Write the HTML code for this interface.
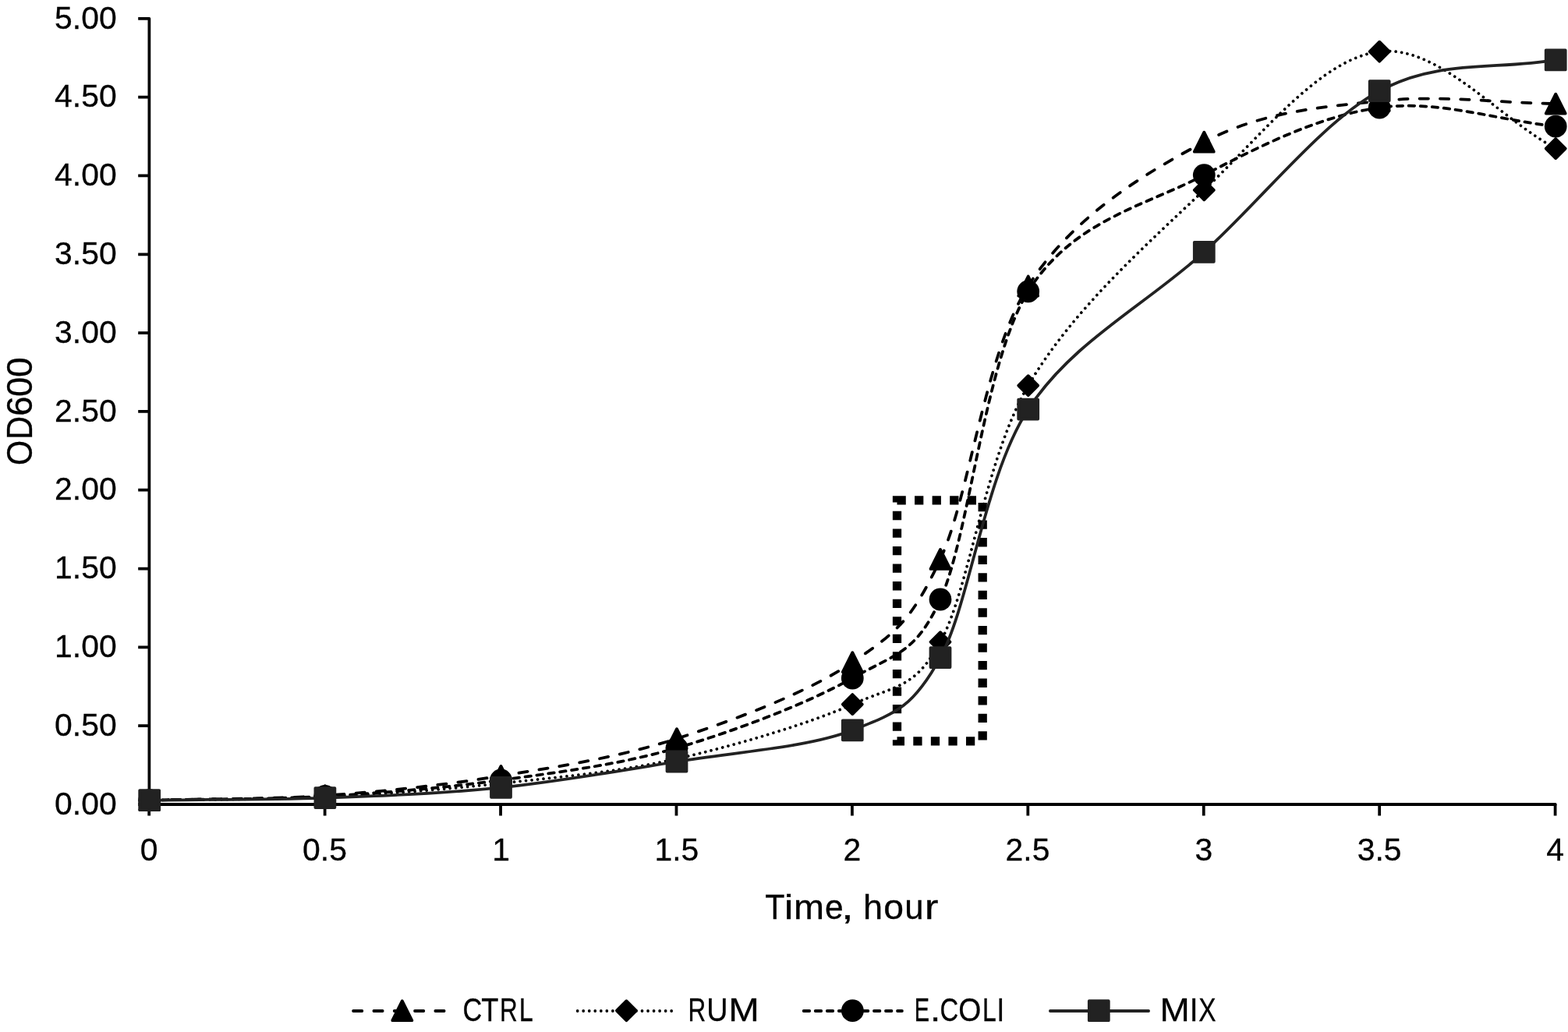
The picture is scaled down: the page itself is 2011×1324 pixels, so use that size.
<!DOCTYPE html>
<html lang="en"><head><meta charset="utf-8"><title>Growth curves</title>
<style>html,body{margin:0;padding:0;background:#fff}body{width:2011px;height:1324px;overflow:hidden}svg{display:block}text{font-family:"Liberation Sans",sans-serif;fill:#000}</style></head><body>
<svg width="2011" height="1324" viewBox="0 0 2011 1324">
<rect width="2011" height="1324" fill="#fff"/>
<g id="axes"><path d="M191.40 23.80 V1032.00 H1994.80" fill="none" stroke="#000" stroke-width="3.76" stroke-linejoin="round" stroke-linecap="round"/><path d="M177.20 1032.00 H191.40M177.20 931.18 H191.40M177.20 830.36 H191.40M177.20 729.54 H191.40M177.20 628.72 H191.40M177.20 527.90 H191.40M177.20 427.08 H191.40M177.20 326.26 H191.40M177.20 225.44 H191.40M177.20 124.62 H191.40M177.20 23.80 H191.40M191.20 1032.00 V1046.60M416.63 1032.00 V1046.60M642.05 1032.00 V1046.60M867.48 1032.00 V1046.60M1092.90 1032.00 V1046.60M1318.33 1032.00 V1046.60M1543.75 1032.00 V1046.60M1769.18 1032.00 V1046.60M1994.60 1032.00 V1046.60" fill="none" stroke="#000" stroke-width="3.76"/></g>
<rect id="highlight" x="1150.5" y="641.9" width="109.7" height="309.0" fill="none" stroke="#000" stroke-width="11.28" stroke-dasharray="11.28 11.28"/>
<g id="s-ctrl"><path d="M191.70 1026.60 C266.77 1024.60 341.77 1025.80 416.90 1020.60 C492.03 1015.40 567.32 1007.57 642.50 995.40 C717.68 983.23 792.87 971.88 868.00 947.60 C943.13 923.32 1036.97 888.07 1093.30 849.70 C1149.63 811.33 1169.23 796.14 1206.00 717.40 C1243.57 636.95 1262.32 456.20 1318.70 367.00 C1375.08 277.80 1469.22 221.77 1544.30 182.20 C1619.38 142.63 1694.05 137.78 1769.20 129.60 C1844.35 121.42 1919.87 131.93 1995.20 133.10" fill="none" stroke="#000" stroke-width="3.76" stroke-linecap="round" stroke-linejoin="round" stroke-dasharray="11.28 15.04" stroke-dashoffset="-1.88"/><polygon points="191.70,1014.10 204.20,1039.10 179.20,1039.10" fill="#000" stroke="#000" stroke-width="3.76" stroke-linejoin="round"/><polygon points="416.90,1008.10 429.40,1033.10 404.40,1033.10" fill="#000" stroke="#000" stroke-width="3.76" stroke-linejoin="round"/><polygon points="642.50,982.90 655.00,1007.90 630.00,1007.90" fill="#000" stroke="#000" stroke-width="3.76" stroke-linejoin="round"/><polygon points="868.00,935.10 880.50,960.10 855.50,960.10" fill="#000" stroke="#000" stroke-width="3.76" stroke-linejoin="round"/><polygon points="1093.30,837.20 1105.80,862.20 1080.80,862.20" fill="#000" stroke="#000" stroke-width="3.76" stroke-linejoin="round"/><polygon points="1206.00,704.90 1218.50,729.90 1193.50,729.90" fill="#000" stroke="#000" stroke-width="3.76" stroke-linejoin="round"/><polygon points="1318.70,354.50 1331.20,379.50 1306.20,379.50" fill="#000" stroke="#000" stroke-width="3.76" stroke-linejoin="round"/><polygon points="1544.30,169.70 1556.80,194.70 1531.80,194.70" fill="#000" stroke="#000" stroke-width="3.76" stroke-linejoin="round"/><polygon points="1769.20,117.10 1781.70,142.10 1756.70,142.10" fill="#000" stroke="#000" stroke-width="3.76" stroke-linejoin="round"/><polygon points="1995.20,120.60 2007.70,145.60 1982.70,145.60" fill="#000" stroke="#000" stroke-width="3.76" stroke-linejoin="round"/></g>
<g id="s-rum"><path d="M191.70 1026.60 C266.77 1025.23 341.77 1026.10 416.90 1022.50 C492.03 1018.90 567.32 1013.17 642.50 1005.00 C717.68 996.83 792.87 990.40 868.00 973.50 C943.13 956.60 1036.97 928.57 1093.30 903.60 C1149.63 878.63 1172.65 884.19 1206.00 823.70 C1243.57 755.55 1262.32 591.35 1318.70 494.70 C1375.08 398.05 1469.22 315.22 1544.30 243.80 C1619.38 172.38 1694.05 75.07 1769.20 66.20 C1844.35 57.33 1919.87 149.13 1995.20 190.60" fill="none" stroke="#000" stroke-width="3.76" stroke-linecap="round" stroke-linejoin="round" stroke-dasharray="0.01 7.52" stroke-dashoffset="-1.88"/><polygon points="191.70,1014.10 204.20,1026.60 191.70,1039.10 179.20,1026.60" fill="#000" stroke="#000" stroke-width="3.76" stroke-linejoin="round"/><polygon points="416.90,1010.00 429.40,1022.50 416.90,1035.00 404.40,1022.50" fill="#000" stroke="#000" stroke-width="3.76" stroke-linejoin="round"/><polygon points="642.50,992.50 655.00,1005.00 642.50,1017.50 630.00,1005.00" fill="#000" stroke="#000" stroke-width="3.76" stroke-linejoin="round"/><polygon points="868.00,961.00 880.50,973.50 868.00,986.00 855.50,973.50" fill="#000" stroke="#000" stroke-width="3.76" stroke-linejoin="round"/><polygon points="1093.30,891.10 1105.80,903.60 1093.30,916.10 1080.80,903.60" fill="#000" stroke="#000" stroke-width="3.76" stroke-linejoin="round"/><polygon points="1206.00,811.20 1218.50,823.70 1206.00,836.20 1193.50,823.70" fill="#000" stroke="#000" stroke-width="3.76" stroke-linejoin="round"/><polygon points="1318.70,482.20 1331.20,494.70 1318.70,507.20 1306.20,494.70" fill="#000" stroke="#000" stroke-width="3.76" stroke-linejoin="round"/><polygon points="1544.30,231.30 1556.80,243.80 1544.30,256.30 1531.80,243.80" fill="#000" stroke="#000" stroke-width="3.76" stroke-linejoin="round"/><polygon points="1769.20,53.70 1781.70,66.20 1769.20,78.70 1756.70,66.20" fill="#000" stroke="#000" stroke-width="3.76" stroke-linejoin="round"/><polygon points="1995.20,178.10 2007.70,190.60 1995.20,203.10 1982.70,190.60" fill="#000" stroke="#000" stroke-width="3.76" stroke-linejoin="round"/></g>
<g id="s-ecoli"><path d="M191.70 1026.60 C266.77 1024.90 341.77 1025.80 416.90 1021.50 C492.03 1017.20 567.32 1011.12 642.50 1000.80 C717.68 990.48 792.87 981.40 868.00 959.60 C943.13 937.80 1036.97 901.77 1093.30 870.00 C1149.63 838.23 1174.71 837.89 1206.00 769.00 C1243.57 686.30 1262.32 464.53 1318.70 373.80 C1375.08 283.07 1469.22 263.88 1544.30 224.60 C1619.38 185.32 1694.05 148.52 1769.20 138.10 C1844.35 127.68 1919.87 154.10 1995.20 162.10" fill="none" stroke="#000" stroke-width="3.76" stroke-linecap="round" stroke-linejoin="round" stroke-dasharray="7.52 7.52" stroke-dashoffset="-1.88"/><circle cx="191.70" cy="1026.60" r="14.38" fill="#000"/><circle cx="416.90" cy="1021.50" r="14.38" fill="#000"/><circle cx="642.50" cy="1000.80" r="14.38" fill="#000"/><circle cx="868.00" cy="959.60" r="14.38" fill="#000"/><circle cx="1093.30" cy="870.00" r="14.38" fill="#000"/><circle cx="1206.00" cy="769.00" r="14.38" fill="#000"/><circle cx="1318.70" cy="373.80" r="14.38" fill="#000"/><circle cx="1544.30" cy="224.60" r="14.38" fill="#000"/><circle cx="1769.20" cy="138.10" r="14.38" fill="#000"/><circle cx="1995.20" cy="162.10" r="14.38" fill="#000"/></g>
<g id="s-mix"><path d="M191.70 1026.60 C266.77 1025.60 341.77 1026.32 416.90 1023.60 C492.03 1020.88 567.32 1018.07 642.50 1010.30 C717.68 1002.53 792.87 989.25 868.00 977.00 C943.13 964.75 1036.97 959.03 1093.30 936.80 C1149.63 914.57 1170.88 907.74 1206.00 843.60 C1243.57 774.98 1262.32 611.82 1318.70 525.10 C1375.08 438.38 1469.22 391.37 1544.30 323.30 C1619.38 255.23 1694.05 157.77 1769.20 116.70 C1844.35 75.63 1919.87 90.17 1995.20 76.90" fill="none" stroke="#222" stroke-width="3.76" stroke-linecap="round" stroke-linejoin="round"/><rect x="179.20" y="1014.10" width="25.00" height="25.00" fill="#222" stroke="#222" stroke-width="3.76" stroke-linejoin="round"/><rect x="404.40" y="1011.10" width="25.00" height="25.00" fill="#222" stroke="#222" stroke-width="3.76" stroke-linejoin="round"/><rect x="630.00" y="997.80" width="25.00" height="25.00" fill="#222" stroke="#222" stroke-width="3.76" stroke-linejoin="round"/><rect x="855.50" y="964.50" width="25.00" height="25.00" fill="#222" stroke="#222" stroke-width="3.76" stroke-linejoin="round"/><rect x="1080.80" y="924.30" width="25.00" height="25.00" fill="#222" stroke="#222" stroke-width="3.76" stroke-linejoin="round"/><rect x="1193.50" y="831.10" width="25.00" height="25.00" fill="#222" stroke="#222" stroke-width="3.76" stroke-linejoin="round"/><rect x="1306.20" y="512.60" width="25.00" height="25.00" fill="#222" stroke="#222" stroke-width="3.76" stroke-linejoin="round"/><rect x="1531.80" y="310.80" width="25.00" height="25.00" fill="#222" stroke="#222" stroke-width="3.76" stroke-linejoin="round"/><rect x="1756.70" y="104.20" width="25.00" height="25.00" fill="#222" stroke="#222" stroke-width="3.76" stroke-linejoin="round"/><rect x="1982.70" y="64.40" width="25.00" height="25.00" fill="#222" stroke="#222" stroke-width="3.76" stroke-linejoin="round"/></g>
<g id="ylabels"><text transform="translate(70.09 1044.75) scale(0.9860 1)" font-size="41.45" stroke="#000" stroke-width="0.30" stroke-linejoin="miter" vector-effect="non-scaling-stroke">0.00</text><text transform="translate(70.09 943.93) scale(0.9860 1)" font-size="41.45" stroke="#000" stroke-width="0.30" stroke-linejoin="miter" vector-effect="non-scaling-stroke">0.50</text><text transform="translate(70.09 843.11) scale(0.9860 1)" font-size="41.45" stroke="#000" stroke-width="0.30" stroke-linejoin="miter" vector-effect="non-scaling-stroke">1.00</text><text transform="translate(70.09 742.29) scale(0.9860 1)" font-size="41.45" stroke="#000" stroke-width="0.30" stroke-linejoin="miter" vector-effect="non-scaling-stroke">1.50</text><text transform="translate(70.09 641.47) scale(0.9860 1)" font-size="41.45" stroke="#000" stroke-width="0.30" stroke-linejoin="miter" vector-effect="non-scaling-stroke">2.00</text><text transform="translate(70.09 540.65) scale(0.9860 1)" font-size="41.45" stroke="#000" stroke-width="0.30" stroke-linejoin="miter" vector-effect="non-scaling-stroke">2.50</text><text transform="translate(70.09 439.83) scale(0.9860 1)" font-size="41.45" stroke="#000" stroke-width="0.30" stroke-linejoin="miter" vector-effect="non-scaling-stroke">3.00</text><text transform="translate(70.09 339.01) scale(0.9860 1)" font-size="41.45" stroke="#000" stroke-width="0.30" stroke-linejoin="miter" vector-effect="non-scaling-stroke">3.50</text><text transform="translate(70.09 238.19) scale(0.9860 1)" font-size="41.45" stroke="#000" stroke-width="0.30" stroke-linejoin="miter" vector-effect="non-scaling-stroke">4.00</text><text transform="translate(70.09 137.37) scale(0.9860 1)" font-size="41.45" stroke="#000" stroke-width="0.30" stroke-linejoin="miter" vector-effect="non-scaling-stroke">4.50</text><text transform="translate(70.09 36.55) scale(0.9860 1)" font-size="41.45" stroke="#000" stroke-width="0.30" stroke-linejoin="miter" vector-effect="non-scaling-stroke">5.00</text></g>
<g id="xlabels"><text transform="translate(179.76 1104.05) scale(0.9860 1)" font-size="41.45" stroke="#000" stroke-width="0.30" stroke-linejoin="miter" vector-effect="non-scaling-stroke">0</text><text transform="translate(388.12 1104.05) scale(0.9860 1)" font-size="41.45" stroke="#000" stroke-width="0.30" stroke-linejoin="miter" vector-effect="non-scaling-stroke">0.5</text><text transform="translate(631.30 1104.05) scale(0.9860 1)" font-size="41.45" stroke="#000" stroke-width="0.30" stroke-linejoin="miter" vector-effect="non-scaling-stroke">1</text><text transform="translate(839.46 1104.05) scale(0.9860 1)" font-size="41.45" stroke="#000" stroke-width="0.30" stroke-linejoin="miter" vector-effect="non-scaling-stroke">1.5</text><text transform="translate(1081.46 1104.05) scale(0.9860 1)" font-size="41.45" stroke="#000" stroke-width="0.30" stroke-linejoin="miter" vector-effect="non-scaling-stroke">2</text><text transform="translate(1289.62 1104.05) scale(0.9860 1)" font-size="41.45" stroke="#000" stroke-width="0.30" stroke-linejoin="miter" vector-effect="non-scaling-stroke">2.5</text><text transform="translate(1532.41 1104.05) scale(0.9860 1)" font-size="41.45" stroke="#000" stroke-width="0.30" stroke-linejoin="miter" vector-effect="non-scaling-stroke">3</text><text transform="translate(1740.67 1104.05) scale(0.9860 1)" font-size="41.45" stroke="#000" stroke-width="0.30" stroke-linejoin="miter" vector-effect="non-scaling-stroke">3.5</text><text transform="translate(1983.26 1104.05) scale(0.9860 1)" font-size="41.45" stroke="#000" stroke-width="0.30" stroke-linejoin="miter" vector-effect="non-scaling-stroke">4</text></g>
<g id="titles">
<text y="1178.65" font-size="44.93" stroke="#000" stroke-width="0.30" stroke-linejoin="miter"><tspan x="981.27" textLength="25.19" lengthAdjust="spacingAndGlyphs">T</tspan><tspan x="1005.82" textLength="11.73" lengthAdjust="spacingAndGlyphs">i</tspan><tspan x="1018.00" textLength="39.03" lengthAdjust="spacingAndGlyphs">m</tspan><tspan x="1058.09" textLength="23.62" lengthAdjust="spacingAndGlyphs">e</tspan><tspan x="1078.95" textLength="15.80" lengthAdjust="spacingAndGlyphs">,</tspan><tspan> </tspan><tspan x="1106.90" textLength="25.03" lengthAdjust="spacingAndGlyphs">h</tspan><tspan x="1133.20" textLength="25.76" lengthAdjust="spacingAndGlyphs">o</tspan><tspan x="1160.21" textLength="24.34" lengthAdjust="spacingAndGlyphs">u</tspan><tspan x="1185.89" textLength="17.72" lengthAdjust="spacingAndGlyphs">r</tspan></text>
<text transform="translate(40.85 600) rotate(-90)" font-size="45.65" stroke="#000" stroke-width="0.30" stroke-linejoin="miter"><tspan x="2.89" textLength="32.14" lengthAdjust="spacingAndGlyphs">O</tspan><tspan x="35.92" textLength="30.04" lengthAdjust="spacingAndGlyphs">D</tspan><tspan x="66.37" textLength="25.39" lengthAdjust="spacingAndGlyphs">6</tspan><tspan x="91.03" textLength="25.35" lengthAdjust="spacingAndGlyphs">0</tspan><tspan x="116.00" textLength="25.76" lengthAdjust="spacingAndGlyphs">0</tspan></text>
</g>
<g id="legend"><path d="M451.20 1297.00 H579.32" fill="none" stroke="#000" stroke-width="3.76" stroke-linecap="round" stroke-linejoin="round" stroke-dasharray="11.28 15.04" stroke-dashoffset="-1.88"/><polygon points="515.80,1284.20 528.30,1309.20 503.30,1309.20" fill="#000" stroke="#000" stroke-width="3.76" stroke-linejoin="round"/><text y="1309.85" font-size="41.74" stroke="#000" stroke-width="0.30" stroke-linejoin="miter"><tspan x="593.56" textLength="24.74" lengthAdjust="spacingAndGlyphs">C</tspan><tspan x="617.34" textLength="22.16" lengthAdjust="spacingAndGlyphs">T</tspan><tspan x="640.90" textLength="22.69" lengthAdjust="spacingAndGlyphs">R</tspan><tspan x="665.70" textLength="18.06" lengthAdjust="spacingAndGlyphs">L</tspan></text><path d="M738.80 1297.00 H866.92" fill="none" stroke="#000" stroke-width="3.76" stroke-linecap="round" stroke-linejoin="round" stroke-dasharray="0.01 7.52" stroke-dashoffset="-1.88"/><polygon points="803.40,1284.20 815.90,1296.70 803.40,1309.20 790.90,1296.70" fill="#000" stroke="#000" stroke-width="3.76" stroke-linejoin="round"/><text y="1309.85" font-size="41.74" stroke="#000" stroke-width="0.30" stroke-linejoin="miter"><tspan x="882.48" textLength="22.71" lengthAdjust="spacingAndGlyphs">R</tspan><tspan x="906.32" textLength="27.24" lengthAdjust="spacingAndGlyphs">U</tspan><tspan x="934.35" textLength="39.54" lengthAdjust="spacingAndGlyphs">M</tspan></text><path d="M1028.80 1297.00 H1156.92" fill="none" stroke="#000" stroke-width="3.76" stroke-linecap="round" stroke-linejoin="round" stroke-dasharray="7.52 7.52" stroke-dashoffset="-1.88"/><circle cx="1093.40" cy="1296.70" r="14.38" fill="#000"/><text y="1309.85" font-size="41.74" stroke="#000" stroke-width="0.30" stroke-linejoin="miter"><tspan x="1172.63" textLength="19.34" lengthAdjust="spacingAndGlyphs">E</tspan><tspan x="1192.70" textLength="13.75" lengthAdjust="spacingAndGlyphs">.</tspan><tspan x="1205.51" textLength="23.73" lengthAdjust="spacingAndGlyphs">C</tspan><tspan x="1229.37" textLength="29.07" lengthAdjust="spacingAndGlyphs">O</tspan><tspan x="1259.90" textLength="17.75" lengthAdjust="spacingAndGlyphs">L</tspan><tspan x="1278.42" textLength="9.65" lengthAdjust="spacingAndGlyphs">I</tspan></text><path d="M1346.88 1297.00 H1473.12" fill="none" stroke="#222" stroke-width="3.76" stroke-linecap="round" stroke-linejoin="round"/><rect x="1396.80" y="1284.20" width="25.00" height="25.00" fill="#222" stroke="#222" stroke-width="3.76" stroke-linejoin="round"/><text y="1309.85" font-size="41.74" stroke="#000" stroke-width="0.30" stroke-linejoin="miter"><tspan x="1487.42" textLength="38.25" lengthAdjust="spacingAndGlyphs">M</tspan><tspan x="1525.74" textLength="10.82" lengthAdjust="spacingAndGlyphs">I</tspan><tspan x="1537.31" textLength="22.32" lengthAdjust="spacingAndGlyphs">X</tspan></text></g>
</svg></body></html>
